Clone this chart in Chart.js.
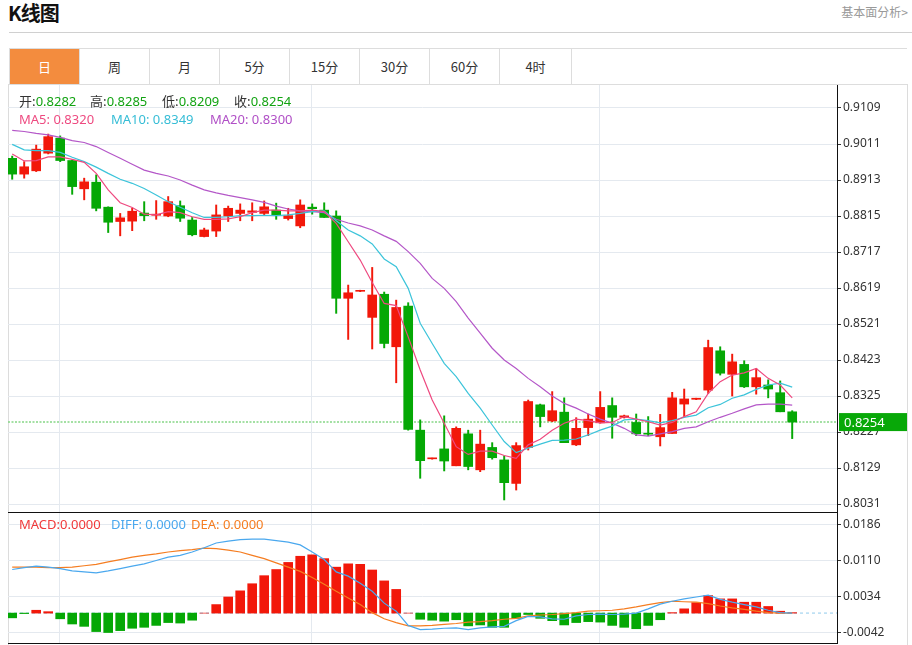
<!DOCTYPE html>
<html>
<head>
<meta charset="utf-8">
<script src="https://cdn.jsdelivr.net/npm/chart.js@4.4.0/dist/chart.umd.min.js"></script>
<style>
body { margin: 0; background: #fff; font-family: "Noto Sans", "Noto Sans CJK SC", sans-serif; }
#wrap { position: relative; width: 912px; height: 645px; overflow: hidden; }
.abs { position: absolute; white-space: nowrap; }
#title { left: 8px; top: -2px; font: bold 20px "Noto Sans CJK SC", sans-serif; color: #111; letter-spacing: -1px; }
#more { right: 4px; top: 3px; font: 12px "Noto Sans CJK SC", sans-serif; color: #999; }
#hr { left: 9px; top: 32px; width: 903px; height: 1px; background: #d0d0d0; }
#tabbar { left: 9px; top: 48px; width: 898px; height: 36px; border-top: 1px solid #ddd; border-left: 1px solid #ddd; box-sizing: border-box; }
.tab { position: absolute; top: 0; height: 35px; text-align: center; border-right: 1px solid #ddd; box-sizing: border-box; font: 13px "Noto Sans CJK SC", sans-serif; line-height: 35px; color: #333; }
.tab.on { background: #f38c3e; color: #fff; }
#frameL { left: 8px; top: 84px; width: 1px; height: 561px; background: #dcdcdc; }
#frameR { left: 907px; top: 84px; width: 1px; height: 561px; background: #dcdcdc; }
#topline { left: 8px; top: 84px; width: 900px; height: 1px; background: #ddd; }
canvas { position: absolute; left: 0; }
#price { top: 85px; }
#macd { top: 513px; }
.lg { position: absolute; font-size: 13px; line-height: 18px; white-space: nowrap; }
.k { color: #333; font-family: "Noto Sans CJK SC", sans-serif; }
.g { color: #12a312; }
</style>
</head>
<body>
<div id="wrap">
  <div class="abs" id="title">K线图</div>
  <div class="abs" id="more">基本面分析&gt;</div>
  <div class="abs" id="hr"></div>
  <div class="abs" id="tabbar"></div>
  <div class="abs" id="topline"></div>
  <div class="abs" id="frameL"></div>
  <div class="abs" id="frameR"></div>
  <canvas id="price" width="912" height="428"></canvas>
  <canvas id="macd" width="912" height="132"></canvas>
  <div class="lg" style="left:19px;top:92px"><span class="k">开:</span><span class="g">0.8282</span></div>
  <div class="lg" style="left:90px;top:92px"><span class="k">高:</span><span class="g">0.8285</span></div>
  <div class="lg" style="left:162px;top:92px"><span class="k">低:</span><span class="g">0.8209</span></div>
  <div class="lg" style="left:234px;top:92px"><span class="k">收:</span><span class="g">0.8254</span></div>
  <div class="lg" style="left:19px;top:110px;color:#ee4a80">MA5: 0.8320</div>
  <div class="lg" style="left:111px;top:110px;color:#36bdd6">MA10: 0.8349</div>
  <div class="lg" style="left:210px;top:110px;color:#b04fc6">MA20: 0.8300</div>
  <div class="lg" style="left:19px;top:515px;color:#f0393a">MACD:0.0000</div>
  <div class="lg" style="left:111px;top:515px;color:#4aa8ee">DIFF: 0.0000</div>
  <div class="lg" style="left:191px;top:515px;color:#f57d21">DEA: 0.0000</div>
</div>
<script>
const tabNames = ['日', '周', '月', '5分', '15分', '30分', '60分', '4时'];

const opens  = [0.8972,0.8929,0.8938,0.8986,0.9027,0.8966,0.8889,0.8907,0.8839,0.8800,0.8801,0.8823,0.8817,0.8815,0.8843,0.8804,0.8759,0.8774,0.8815,0.8822,0.8825,0.8822,0.8831,0.8808,0.8788,0.8839,0.8831,0.8815,0.8591,0.8610,0.8539,0.8602,0.8459,0.8570,0.8232,0.8154,0.8181,0.8135,0.8222,0.8124,0.8185,0.8151,0.8087,0.8185,0.8301,0.8257,0.8281,0.8192,0.8239,0.8252,0.8299,0.8267,0.8253,0.8223,0.8214,0.8223,0.8303,0.8316,0.8341,0.8448,0.8384,0.8411,0.8350,0.8355,0.8334,0.8282];
const highs  = [0.8978,0.8963,0.9008,0.9038,0.9033,0.8967,0.8918,0.8927,0.8840,0.8822,0.8836,0.8854,0.8857,0.8868,0.8856,0.8811,0.8782,0.8845,0.8842,0.8848,0.8851,0.8856,0.8850,0.8836,0.8859,0.8848,0.8851,0.8829,0.8627,0.8613,0.8675,0.8608,0.8586,0.8579,0.8260,0.8156,0.8271,0.8241,0.8232,0.8232,0.8198,0.8162,0.8198,0.8314,0.8303,0.8337,0.8320,0.8266,0.8276,0.8337,0.8320,0.8273,0.8276,0.8269,0.8275,0.8335,0.8344,0.8319,0.8477,0.8459,0.8439,0.8421,0.8400,0.8369,0.8366,0.8285];
const lows   = [0.8915,0.8918,0.8936,0.8984,0.8963,0.8874,0.8859,0.8829,0.8770,0.8761,0.8775,0.8802,0.8806,0.8813,0.8800,0.8761,0.8758,0.8759,0.8800,0.8802,0.8802,0.8818,0.8806,0.8804,0.8783,0.8820,0.8811,0.8550,0.8479,0.8609,0.8453,0.8456,0.8361,0.8232,0.8101,0.8153,0.8121,0.8135,0.8124,0.8119,0.8153,0.8042,0.8069,0.8178,0.8241,0.8255,0.8198,0.8190,0.8217,0.8251,0.8210,0.8265,0.8217,0.8217,0.8189,0.8223,0.8269,0.8315,0.8332,0.8382,0.8325,0.8348,0.8330,0.8320,0.8282,0.8209];
const closes = [0.8929,0.8949,0.8997,0.9031,0.8966,0.8895,0.8908,0.8836,0.8798,0.8810,0.8828,0.8816,0.8820,0.8854,0.8809,0.8764,0.8777,0.8818,0.8836,0.8831,0.8829,0.8840,0.8817,0.8816,0.8845,0.8835,0.8811,0.8591,0.8606,0.8612,0.8600,0.8468,0.8566,0.8234,0.8149,0.8156,0.8148,0.8237,0.8133,0.8194,0.8157,0.8089,0.8190,0.8310,0.8269,0.8285,0.8198,0.8237,0.8262,0.8294,0.8267,0.8271,0.8222,0.8221,0.8239,0.8320,0.8317,0.8319,0.8457,0.8387,0.8418,0.8350,0.8375,0.8344,0.8282,0.8254];

const ma5  = [0.8984,0.8965,0.8966,0.8976,0.8976,0.8969,0.8961,0.8931,0.8886,0.8851,0.8838,0.8820,0.8818,0.8827,0.8824,0.8813,0.8806,0.8806,0.8807,0.8813,0.8824,0.8831,0.8831,0.8829,0.8829,0.8831,0.8827,0.8795,0.8745,0.8695,0.8634,0.8577,0.8571,0.8486,0.8396,0.8314,0.8251,0.8187,0.8166,0.8175,0.8175,0.8163,0.8155,0.8192,0.8207,0.8232,0.8251,0.8262,0.8258,0.8252,0.8253,0.8269,0.8262,0.8255,0.8246,0.8253,0.8269,0.8282,0.8332,0.8364,0.8382,0.8388,0.8400,0.8373,0.8355,0.8320];
const ma10 = [0.9010,0.8995,0.8993,0.8993,0.8988,0.8975,0.8963,0.8948,0.8931,0.8915,0.8904,0.8890,0.8872,0.8854,0.8839,0.8824,0.8811,0.8811,0.8813,0.8816,0.8816,0.8817,0.8816,0.8818,0.8822,0.8827,0.8829,0.8802,0.8777,0.8761,0.8739,0.8698,0.8677,0.8618,0.8523,0.8468,0.8414,0.8378,0.8332,0.8292,0.8246,0.8201,0.8171,0.8183,0.8194,0.8204,0.8205,0.8208,0.8219,0.8232,0.8243,0.8260,0.8262,0.8258,0.8252,0.8258,0.8267,0.8273,0.8293,0.8302,0.8319,0.8328,0.8343,0.8355,0.8360,0.8349];
const ma20 = [0.9048,0.9045,0.9040,0.9036,0.9029,0.9020,0.9015,0.9004,0.8988,0.8972,0.8956,0.8940,0.8931,0.8924,0.8913,0.8899,0.8886,0.8878,0.8871,0.8865,0.8859,0.8852,0.8842,0.8834,0.8829,0.8827,0.8824,0.8806,0.8796,0.8788,0.8777,0.8761,0.8746,0.8718,0.8686,0.8645,0.8618,0.8582,0.8537,0.8496,0.8455,0.8423,0.8400,0.8373,0.8350,0.8325,0.8305,0.8292,0.8276,0.8262,0.8251,0.8237,0.8219,0.8216,0.8222,0.8228,0.8237,0.8241,0.8255,0.8267,0.8278,0.8290,0.8301,0.8303,0.8303,0.8300];

const macdHist = [-0.0010,-0.0001,0.0006,0.0003,-0.0012,-0.0023,-0.0028,-0.0039,-0.0041,-0.0037,-0.0032,-0.0030,-0.0026,-0.0020,-0.0021,-0.0015,0,0.0018,0.0034,0.0047,0.0062,0.0079,0.0092,0.0107,0.0120,0.0123,0.0115,0.0097,0.0104,0.0103,0.0091,0.0068,0.0050,0,-0.0013,-0.0015,-0.0017,-0.0014,-0.0027,-0.0025,-0.0030,-0.0030,-0.0011,-0.0003,-0.0011,-0.0016,-0.0025,-0.0020,-0.0018,-0.0019,-0.0026,-0.0030,-0.0033,-0.0026,-0.0014,0.0001,0.0009,0.0022,0.0037,0.0030,0.0030,0.0023,0.0023,0.0014,0.0004,0.0001];
const diff = [0.0092,0.0096,0.0099,0.0097,0.0094,0.0089,0.0087,0.0085,0.0089,0.0094,0.0099,0.0104,0.0111,0.0118,0.0122,0.0129,0.0138,0.0148,0.0152,0.0155,0.0156,0.0156,0.0153,0.0150,0.0144,0.0129,0.0113,0.0087,0.0078,0.0063,0.0046,0.0021,0.0004,-0.0026,-0.0035,-0.0034,-0.0032,-0.0031,-0.0035,-0.0031,-0.0029,-0.0028,-0.0016,-0.0007,-0.0008,-0.0012,-0.0013,-0.0006,-0.0003,-0.0002,-0.0003,-0.0002,0,0.0009,0.0019,0.0025,0.0030,0.0034,0.0038,0.0029,0.0023,0.0018,0.0013,0.0006,0.0001,0];
const dea  = [0.0097,0.0097,0.0097,0.0096,0.0096,0.0097,0.0100,0.0103,0.0108,0.0113,0.0118,0.0122,0.0125,0.0129,0.0132,0.0134,0.0137,0.0136,0.0133,0.0129,0.0122,0.0115,0.0106,0.0097,0.0088,0.0075,0.0061,0.0046,0.0032,0.0018,0.0001,-0.0012,-0.0020,-0.0027,-0.0027,-0.0026,-0.0024,-0.0022,-0.0019,-0.0018,-0.0016,-0.0013,-0.0011,-0.0006,-0.0004,-0.0003,-0.0001,0.0001,0.0004,0.0005,0.0006,0.0009,0.0013,0.0018,0.0022,0.0025,0.0024,0.0023,0.0020,0.0015,0.0011,0.0008,0.0004,0.0001,0,0];

const priceTicks = [0.9109,0.9011,0.8913,0.8815,0.8717,0.8619,0.8521,0.8423,0.8325,0.8227,0.8129,0.8031];
const macdTicks = [0.0186,0.0110,0.0034,-0.0042];
const monthStarts = [3.93, 24.96, 48.93];

const RED = '#f2180a';
const GREEN = '#05a805';
const FONT = '"Noto Sans", sans-serif';

// tabs
const bar = document.getElementById('tabbar');
tabNames.forEach(function(name, i) {
    const d = document.createElement('div');
    d.className = 'tab' + (i === 0 ? ' on' : '');
    d.style.left = (i * 70) + 'px';
    d.style.width = (i === tabNames.length - 1 ? 72 : 70) + 'px';
    d.textContent = name;
    bar.appendChild(d);
});

const candleColors = closes.map((c, i) => c > opens[i] ? RED : GREEN);
const xy = arr => arr.map((v, i) => ({ x: i, y: v }));

function xScale() {
    return {
        type: 'linear', min: -0.35, max: 68.733, offset: false,
        afterBuildTicks: s => { s.ticks = monthStarts.map(v => ({ value: v })); },
        afterFit: s => { s.height = 0; s.paddingLeft = 0; s.paddingRight = 0; },
        ticks: { display: false },
        grid: { color: '#e4e9ef', drawTicks: false, offset: false },
        border: { display: true, color: '#111', width: 1 }
    };
}

function yScale(min, max, ticks) {
    return {
        type: 'linear', position: 'right', min: min, max: max,
        afterBuildTicks: s => { s.ticks = ticks.map(v => ({ value: v })); },
        afterFit: s => { s.width = 75; s.paddingTop = 0; s.paddingBottom = 0; },
        ticks: { color: '#333', padding: 2, font: { size: 12, family: FONT }, callback: v => v.toFixed(4) },
        grid: { color: '#e4e9ef', tickLength: 4, tickColor: '#333', drawTicks: true },
        border: { display: true, color: '#111', width: 1 }
    };
}

const lastPrice = {
    id: 'lastPrice',
    beforeDatasetsDraw(chart) {
        const { ctx, chartArea: a, scales: { y } } = chart;
        const py = y.getPixelForValue(closes[closes.length - 1]);
        ctx.save();
        ctx.strokeStyle = '#86d686';
        ctx.lineWidth = 1.5;
        ctx.setLineDash([2, 1.5]);
        ctx.beginPath();
        ctx.moveTo(a.left, py);
        ctx.lineTo(a.right, py);
        ctx.stroke();
        ctx.restore();
    },
    afterDraw(chart) {
        const { ctx, chartArea: a, scales: { y } } = chart;
        const py = y.getPixelForValue(closes[closes.length - 1]);
        ctx.save();
        ctx.fillStyle = '#08a808';
        ctx.fillRect(a.right + 2, py - 9, 68, 18);
        ctx.fillStyle = '#fff';
        ctx.font = '13px ' + FONT;
        ctx.textBaseline = 'middle';
        ctx.fillText(closes[closes.length - 1].toFixed(4), a.right + 7, py + 1);
        ctx.restore();
    }
};

const zeroLine = {
    id: 'zeroLine',
    beforeDatasetsDraw(chart) {
        const { ctx, chartArea: a, scales: { y } } = chart;
        const py = y.getPixelForValue(0);
        ctx.save();
        ctx.strokeStyle = '#b5dcf3';
        ctx.lineWidth = 1.5;
        ctx.setLineDash([3, 3]);
        ctx.beginPath();
        ctx.moveTo(a.left, py);
        ctx.lineTo(a.right, py);
        ctx.stroke();
        ctx.restore();
    }
};

function line(label, data, color) {
    return { type: 'line', label: label, data: xy(data), borderColor: color, borderWidth: 1.2, pointRadius: 0, tension: 0, fill: false };
}

new Chart(document.getElementById('price'), {
    type: 'bar',
    data: {
        datasets: [
            line('MA5', ma5, '#ee4a80'),
            line('MA10', ma10, '#3cc4da'),
            line('MA20', ma20, '#b457c8'),
            {
                label: 'body',
                data: opens.map((o, i) => ({ x: i, y: [o, closes[i]] })),
                backgroundColor: candleColors,
                barThickness: 9, minBarLength: 1, grouped: false
            },
            {
                label: 'wick',
                data: lows.map((l, i) => ({ x: i, y: [l, highs[i]] })),
                backgroundColor: candleColors,
                barThickness: 1.3, grouped: false
            }
        ]
    },
    options: {
        responsive: false, animation: false, events: [],
        layout: { padding: { left: 8, right: 0, top: 0, bottom: 1 } },
        plugins: { legend: { display: false }, tooltip: { enabled: false } },
        scales: { x: xScale(), y: yScale(0.800923, 0.917161, priceTicks) }
    },
    plugins: [lastPrice]
});

new Chart(document.getElementById('macd'), {
    type: 'bar',
    data: {
        datasets: [
            line('DIFF', diff, '#4aa8ee'),
            line('DEA', dea, '#f57d21'),
            {
                label: 'MACD',
                data: xy(macdHist),
                backgroundColor: macdHist.map(v => v >= 0 ? RED : GREEN),
                barThickness: 9, grouped: false
            }
        ]
    },
    options: {
        responsive: false, animation: false, events: [],
        layout: { padding: { left: 8, right: 0, top: 0, bottom: 2 } },
        plugins: { legend: { display: false }, tooltip: { enabled: false } },
        scales: { x: xScale(), y: yScale(-0.006312, 0.021132, macdTicks) }
    },
    plugins: [zeroLine]
});
</script>
</body>
</html>
